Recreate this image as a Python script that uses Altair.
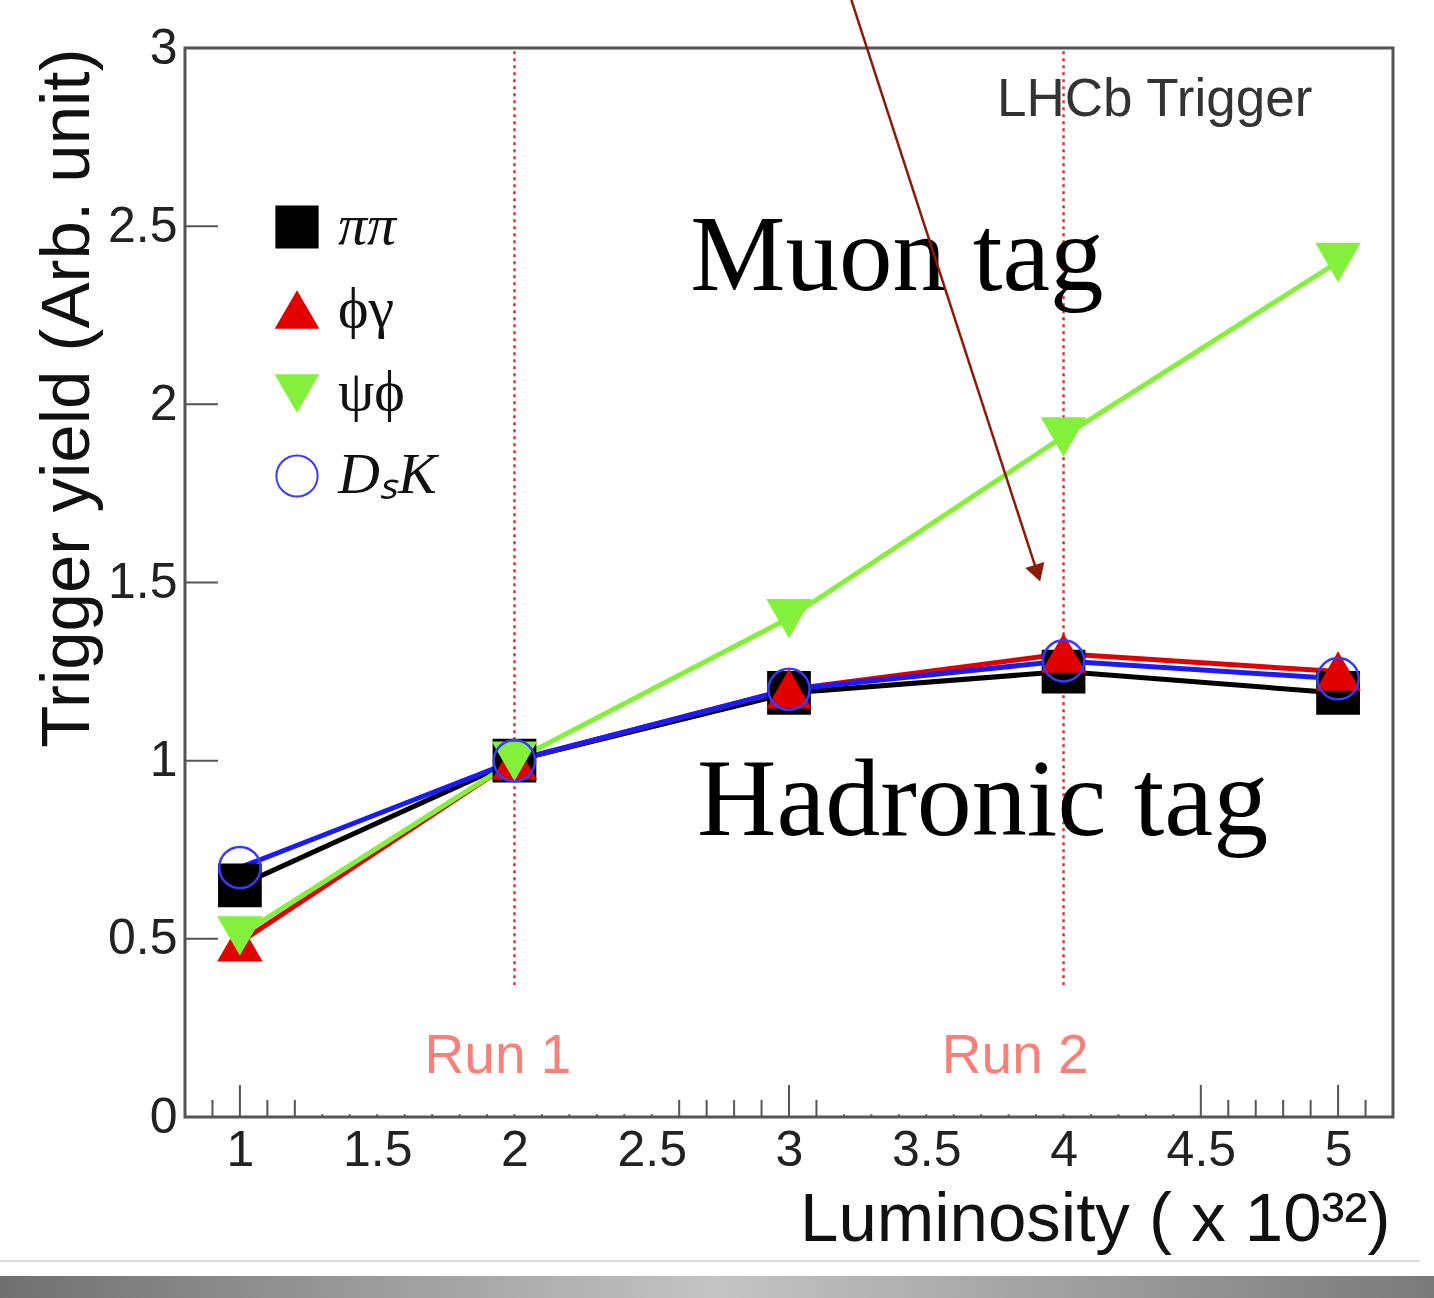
import altair as alt
import pandas as pd

# ---------------- data ----------------
lum = [1, 2, 3, 4, 5]
series_names = ["ππ", "ϕγ", "ψϕ", "DₛK"]
pipi = [0.65, 1.00, 1.19, 1.25, 1.19]
phigamma = [0.49, 1.00, 1.20, 1.30, 1.25]
psiphi = [0.51, 1.00, 1.40, 1.91, 2.40]
dsk = [0.70, 1.00, 1.20, 1.28, 1.23]

line_colors = ["#000000", "#e00000", "#84f03c", "#1a1aff"]
fill_colors = ["#000000", "#e00000", "#84f03c", "transparent"]
stroke_colors = ["#000000", "#e00000", "#84f03c", "#3a3aff"]
shapes = ["square", "triangle-up", "triangle-down", "circle"]

x_ticks = [1, 1.5, 2, 2.5, 3, 3.5, 4, 4.5, 5]
y_ticks = [0, 0.5, 1, 1.5, 2, 2.5, 3]
x_minor = [0.9, 1.1, 1.2, 1.3, 1.4, 1.6, 1.7, 1.8, 1.9, 2.1, 2.2, 2.3, 2.4,
           2.6, 2.7, 2.8, 2.9, 3.1, 3.2, 3.3, 3.4, 3.6, 3.7, 3.8, 3.9,
           4.1, 4.2, 4.3, 4.4, 4.6, 4.7, 4.8, 4.9, 5.1]
run_boundaries = [2, 4]

rows = []
for name, lc, vals in zip(series_names, line_colors, [pipi, phigamma, psiphi, dsk]):
    for xv, yv in zip(lum, vals):
        rows.append({"series": name, "lc": lc, "x": xv, "y": yv})
df = pd.DataFrame(rows)

XMIN, XMAX = 0.8, 5.2
xscale = alt.Scale(domain=[XMIN, XMAX], nice=False, zero=False)
yscale = alt.Scale(domain=[0, 3], nice=False, zero=False)

SANS = "Liberation Sans"
SERIF = "Liberation Serif"

xaxis = alt.Axis(
    values=x_ticks, format="~g", grid=False, ticks=False, domain=False,
    labelFont=SANS, labelFontSize=50, labelColor="#222", labelPadding=8,
    labelFlush=False, labelOverlap=False,
    title="Luminosity ( x 10³²)", titleFont=SANS, titleFontSize=69,
    titleFontWeight="normal", titleColor="#111", titleX=1205, titleY=123,
    titleAlign="right", titleBaseline="alphabetic",
)
yaxis = alt.Axis(
    values=y_ticks, format="~g", grid=False, ticks=False, domain=False,
    labelFont=SANS, labelFontSize=50, labelColor="#222", labelPadding=8,
    labelFlush=False, labelOverlap=False,
    title="Trigger yield (Arb. unit)", titleFont=SANS, titleFontSize=69,
    titleFontWeight="normal", titleColor="#111", titleAngle=270,
    titleX=-97, titleY=0, titleAlign="right", titleBaseline="alphabetic",
)

def X(field="x"):
    return alt.X(f"{field}:Q", scale=xscale, axis=xaxis)

def Y(field="y"):
    return alt.Y(f"{field}:Q", scale=yscale, axis=yaxis)

# ---------------- ticks (inward, ROOT style) ----------------
tick_df = pd.DataFrame(
    [{"x": v, "y": 0.0, "y2": 0.09} for v in x_ticks]
    + [{"x": v, "y": 0.0, "y2": 0.048} for v in x_minor]
)
xtick_layer = alt.Chart(tick_df).mark_rule(color="#555", strokeWidth=2).encode(
    x=X(), y=Y(), y2="y2:Q"
)
ytick_df = pd.DataFrame([{"x": XMIN, "x2": XMIN + 0.12, "y": v} for v in y_ticks[1:-1]])
ytick_layer = alt.Chart(ytick_df).mark_rule(color="#555", strokeWidth=2).encode(
    x=X(), x2="x2:Q", y=Y()
)

# ---------------- run boundaries ----------------
run_df = pd.DataFrame([{"x": v, "y": 0.37, "y2": 3.0} for v in run_boundaries])
run_rules = alt.Chart(run_df).mark_rule(
    color="#e03030", strokeWidth=2.5, strokeDash=[3, 4]
).encode(x=X(), y=Y(), y2="y2:Q")

# white label boxes covering the axis ticks
box_df = pd.DataFrame([
    {"x": 1.29, "x2": 2.585, "y": 0.008, "y2": 0.37},
    {"x": 3.18, "x2": 4.455, "y": 0.008, "y2": 0.37},
])
boxes = alt.Chart(box_df).mark_rect(color="white").encode(
    x=X(), x2="x2:Q", y=Y(), y2="y2:Q"
)

# ---------------- data series ----------------
lines = alt.Chart(df).mark_line(strokeWidth=5).encode(
    x=X(), y=Y(),
    color=alt.Color("lc:N", scale=None),
    detail="series:N",
    order="x:Q",
)

legend = alt.Legend(
    title=None, orient="none", legendX=83, legendY=150, padding=0,
    symbolSize=1700, symbolStrokeWidth=2, symbolOpacity=1,
    labelFont=SERIF, labelFontSize=58, labelColor="#111", labelOffset=12,
    rowPadding=25, labelLimit=400,
    labelFontStyle=alt.ExprRef(expr="datum.label == 'ϕγ' || datum.label == 'ψϕ' ? 'normal' : 'italic'"),
)

points = alt.Chart(df).mark_point(size=1700, strokeWidth=2.5, opacity=1, filled=False).encode(
    x=X(), y=Y(),
    shape=alt.Shape("series:N", scale=alt.Scale(domain=series_names, range=shapes), legend=legend),
    fill=alt.Fill("series:N", scale=alt.Scale(domain=series_names, range=fill_colors), legend=legend),
    stroke=alt.Stroke("series:N", scale=alt.Scale(domain=series_names, range=stroke_colors), legend=legend),
)

# ---------------- annotations ----------------
lhcb_df = pd.DataFrame([{"x": 4.906, "y": 2.809, "t": "LHCb Trigger"}])
lhcb = alt.Chart(lhcb_df).mark_text(
    font=SANS, fontSize=53, color="#333", align="right", baseline="alphabetic"
).encode(x=X(), y=Y(), text="t:N")

tag_df = pd.DataFrame([
    {"x": 3.393, "y": 2.321, "t": "Muon tag", "fs": 107},
    {"x": 3.705, "y": 0.791, "t": "Hadronic tag", "fs": 110},
])
tags = alt.Chart(tag_df).mark_text(
    font=SERIF, color="#000", align="center", baseline="alphabetic"
).encode(x=X(), y=Y(), text="t:N", size=alt.Size("fs:Q", scale=None, legend=None))

runtxt_df = pd.DataFrame([
    {"x": 1.94, "y": 0.1235, "t": "Run 1"},
    {"x": 3.824, "y": 0.1235, "t": "Run 2"},
])
runtxt = alt.Chart(runtxt_df).mark_text(
    font=SANS, fontSize=55, color="#f88078", align="center", baseline="alphabetic"
).encode(x=X(), y=Y(), text="t:N")

# arrow
arrow_df = pd.DataFrame([{"x": 3.227, "y": 3.135, "x2": 3.905, "y2": 1.526}])
arrow_line = alt.Chart(arrow_df).mark_rule(color="#8b1a0a", strokeWidth=2.5, clip=False).encode(
    x=X(), y=Y(), x2="x2:Q", y2="y2:Q"
)
arrow_head = alt.Chart(arrow_df).mark_point(
    shape="triangle-down", size=400, angle=342, filled=True, color="#8b1a0a", opacity=1, clip=False
).encode(x=X("x2"), y=Y("y2"))

# decorative bottom shadow of the screenshot
deco_df = pd.DataFrame({"d": [0]})
shadow = alt.Chart(deco_df).mark_rect(
    clip=False,
    color=alt.LinearGradient(
        gradient="linear",
        stops=[alt.GradientStop(color="#707070", offset=0),
               alt.GradientStop(color="#c4c4c4", offset=0.5),
               alt.GradientStop(color="#7a7a7a", offset=1)],
        x1=0, x2=1, y1=0, y2=0,
    ),
).encode(x=alt.value(-185), x2=alt.value(1249), y=alt.value(1228), y2=alt.value(1250))
sep = alt.Chart(deco_df).mark_rule(color="#dddddd", strokeWidth=2, clip=False).encode(
    x=alt.value(-185), x2=alt.value(1235), y=alt.value(1213)
)

chart = alt.layer(
    xtick_layer, ytick_layer, run_rules, boxes, lines, points,
    lhcb, tags, runtxt, arrow_line, arrow_head, shadow, sep,
).properties(
    width=1208, height=1069,
    padding={"left": 185, "top": 48, "right": 41, "bottom": 181},
    autosize=alt.AutoSizeParams(type="none"),
    background="white",
).configure_view(
    stroke="#555", strokeWidth=3
)

chart.save("out.html", embed_options={"renderer": "svg", "actions": False})
